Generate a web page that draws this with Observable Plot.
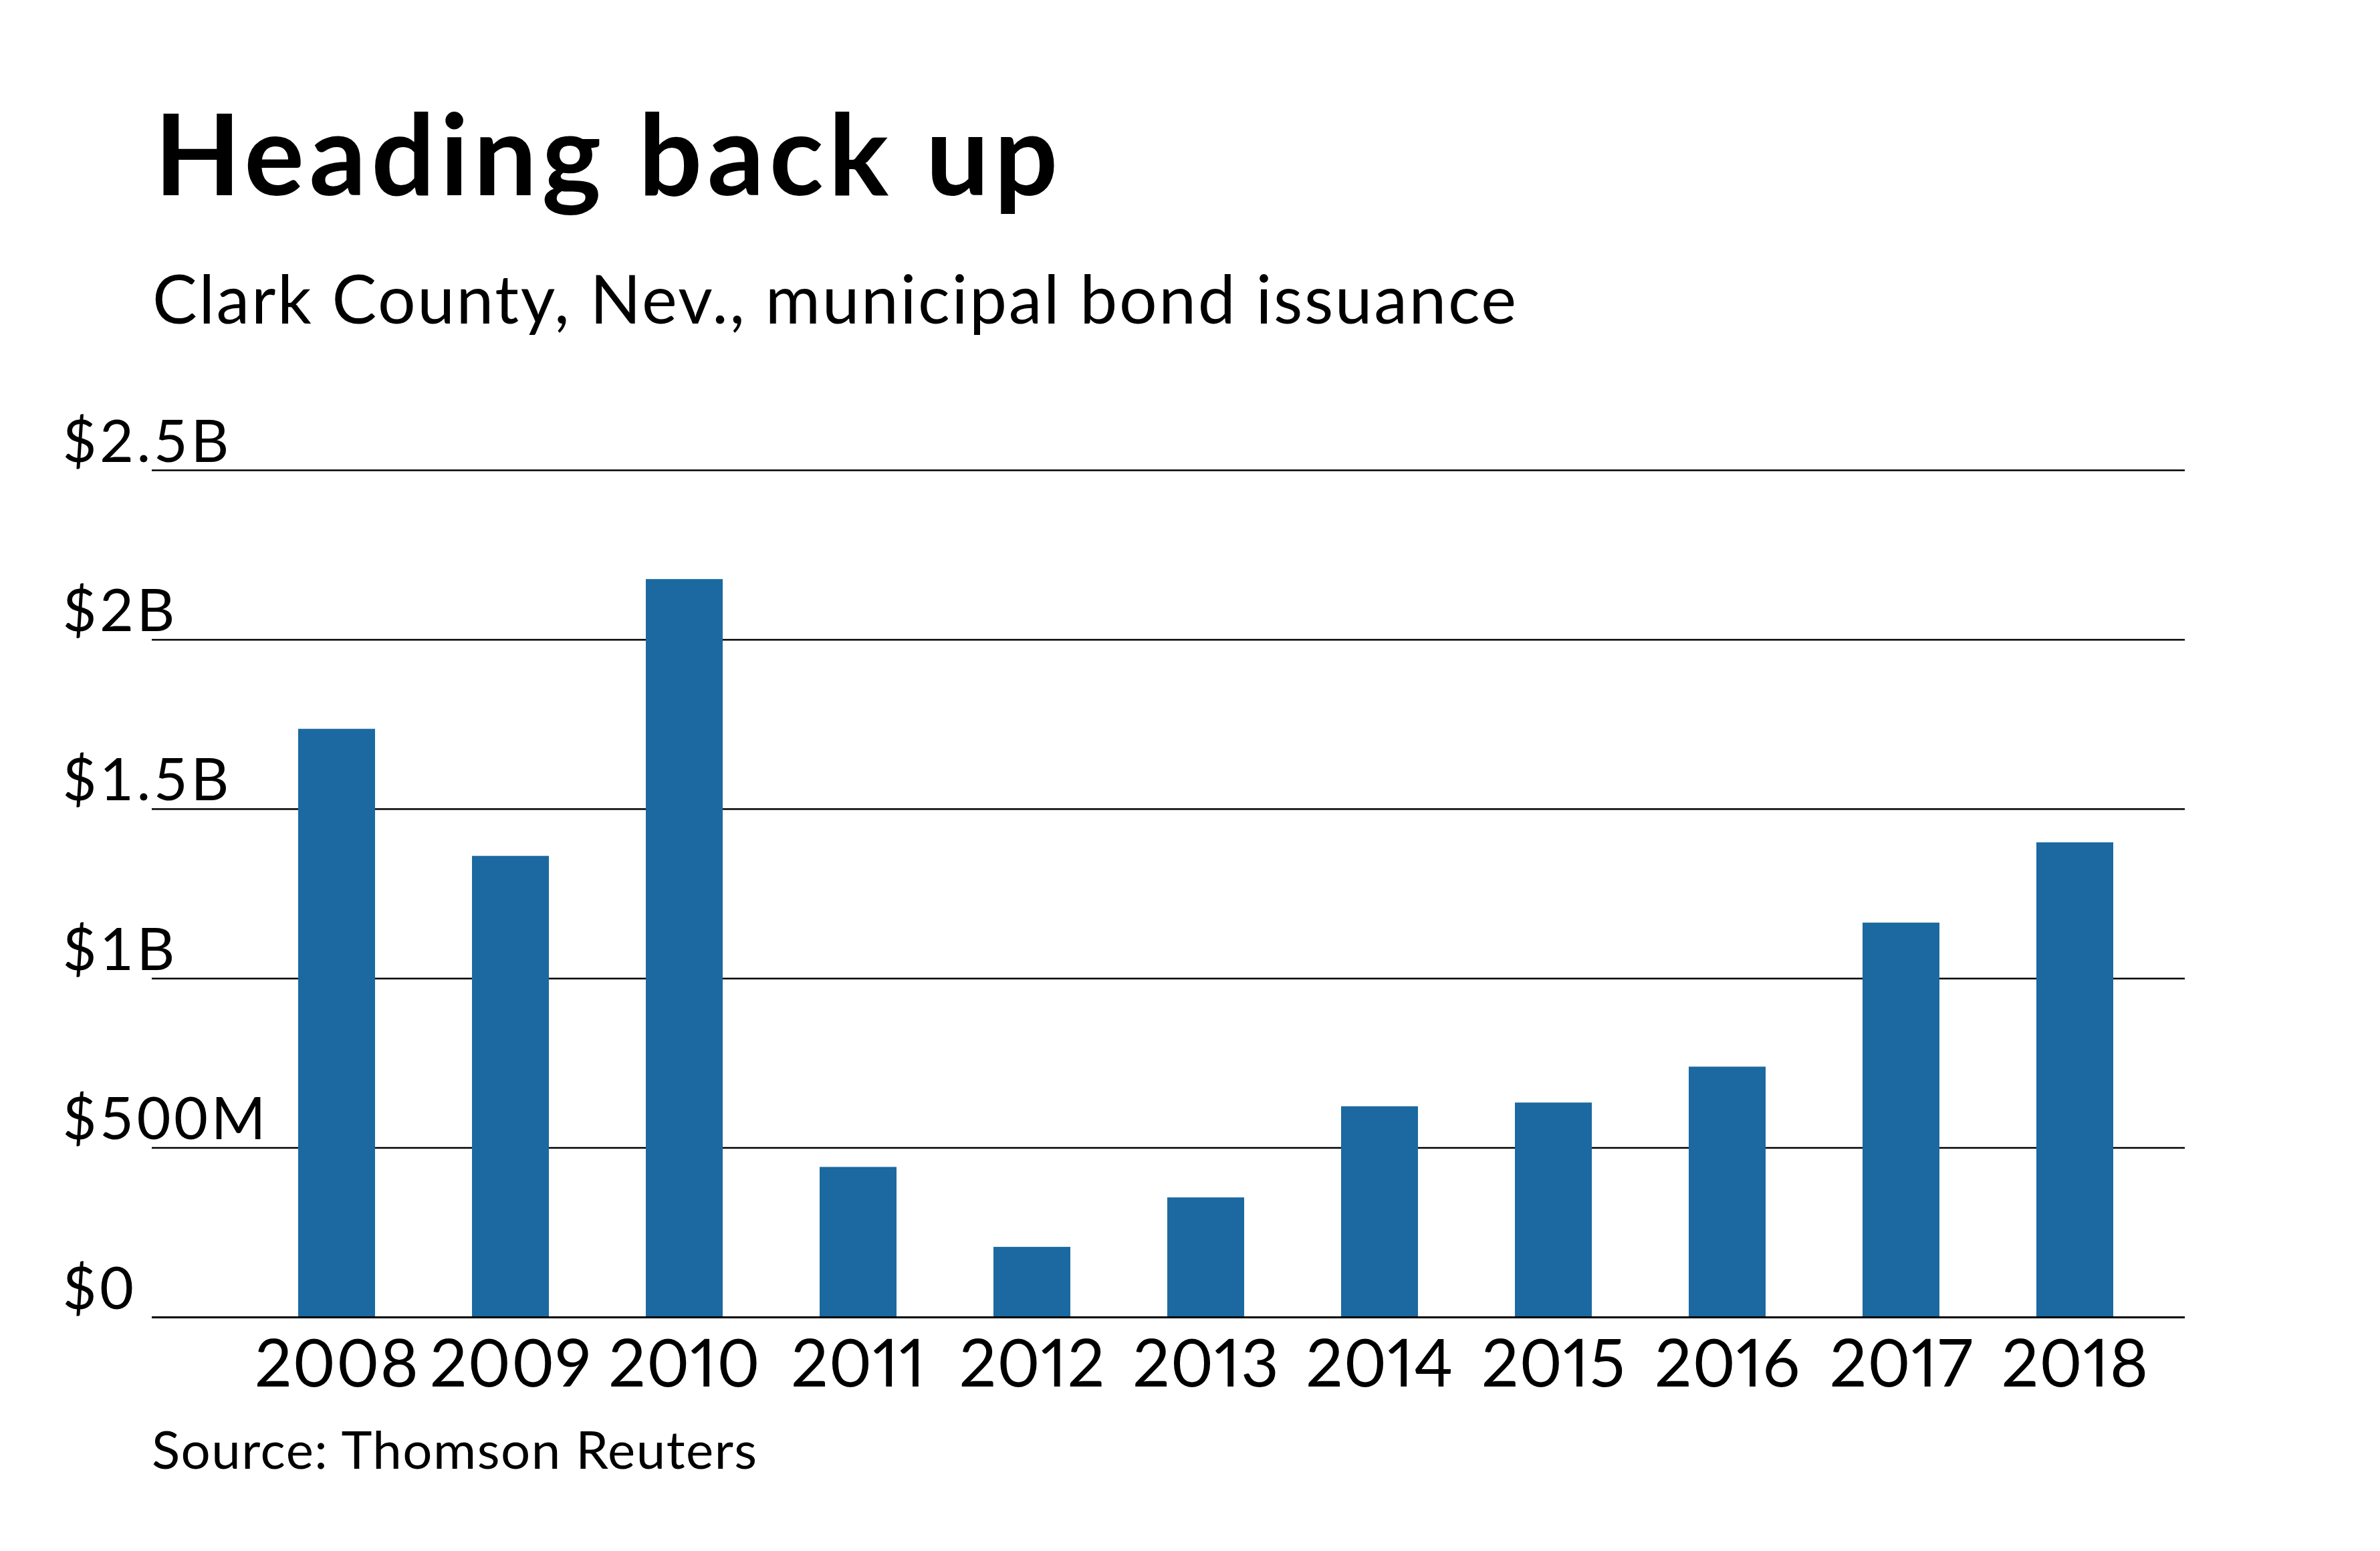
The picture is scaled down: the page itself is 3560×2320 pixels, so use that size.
<!DOCTYPE html>
<html>
<head>
<meta charset="utf-8">
<script src="https://cdn.jsdelivr.net/npm/d3@7"></script>
<script src="https://cdn.jsdelivr.net/npm/@observablehq/plot@0.6"></script>
<style>
  html, body { margin: 0; padding: 0; background: #fff; }
  body { width: 3560px; height: 2320px; position: relative; overflow: hidden;
         font-family: Lato, "Noto Sans", sans-serif; color: #000; }
  .txt { position: absolute; margin: 0; line-height: 1; white-space: nowrap; }
  #title { left: 231px; top: 143px; font-size: 168px; font-weight: 700; letter-spacing: 7.5px; }
  #subtitle { left: 228px; top: 395px; font-size: 100px; font-weight: 400; letter-spacing: 2.6px; }
  #source { left: 227px; top: 2128px; font-size: 78px; font-weight: 400; letter-spacing: 1.5px; }
  #chart { position: absolute; left: 0; top: 560px; }
  #chart svg g[aria-label='x-axis tick label'] text { font-variant-numeric: proportional-nums; letter-spacing: 1px; }
  #chart svg .ylab text { letter-spacing: 4.5px; }
</style>
</head>
<body>
<h1 id="title" class="txt">Heading back up</h1>
<div id="subtitle" class="txt">Clark County, Nev., municipal bond issuance</div>
<div id="chart"></div>
<div id="source" class="txt">Source: Thomson Reuters</div>
<script>
// Data (billions of dollars)
const years = ["2008", "2009", "2010", "2011", "2012", "2013", "2014", "2015", "2016", "2017", "2018"];
const issuance = [1.736, 1.361, 2.178, 0.443, 0.207, 0.353, 0.622, 0.633, 0.739, 1.164, 1.401];
const yTicks = [0, 0.5, 1, 1.5, 2, 2.5];
const yTickLabels = ["$0", "$500M", "$1B", "$1.5B", "$2B", "$2.5B"];

const data = years.map((year, i) => ({year, value: issuance[i]}));
const ticks = yTicks.map((v, i) => ({v, label: yTickLabels[i]}));

const font = 'Lato, "Noto Sans", sans-serif';

const chart = Plot.plot({
  width: 3560,
  height: 1560,
  marginTop: 143,
  marginBottom: 150,
  marginLeft: 227,
  marginRight: 292,
  style: {fontFamily: font, background: "#fff", color: "#000", overflow: "visible"},
  x: {type: "band", domain: years, paddingInner: 0.5577, paddingOuter: 0.27885, insetLeft: 146.5, insetRight: 34.5, label: null},
  y: {domain: [0, 2.5], label: null},
  marks: [
    Plot.ruleY(ticks.filter(d => d.v > 0), {y: "v", stroke: "#000", strokeWidth: 2.5}),
    Plot.barY(data, {x: "year", y: "value", fill: "#1b69a0"}),
    Plot.ruleY([0], {stroke: "#000", strokeWidth: 3}),
    Plot.text(ticks, {
      y: "v", text: "label", frameAnchor: "left", textAnchor: "start",
      lineAnchor: "bottom", dx: -134, dy: -13, fontSize: 88, fill: "#000",
      className: "ylab"
    }),
    Plot.axisX({tickSize: 0, tickPadding: 34, fontSize: 98, fill: "#000", label: null}),
    Plot.axisY({ticks: [], label: null})
  ]
});
document.getElementById("chart").appendChild(chart);
</script>
</body>
</html>
